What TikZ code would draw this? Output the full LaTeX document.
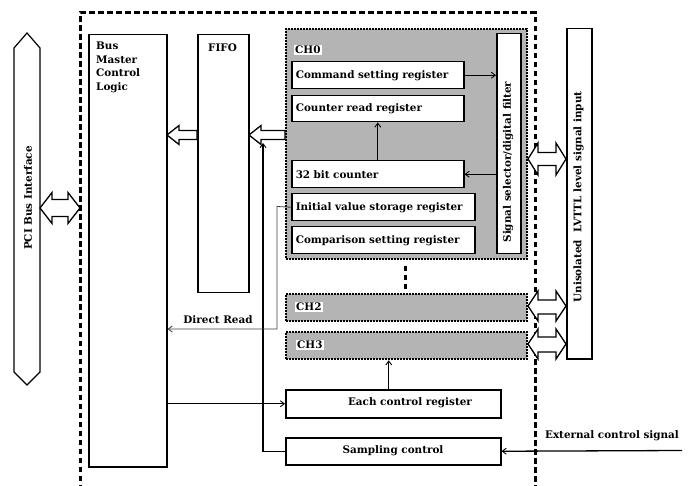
\documentclass[tikz,border=0pt]{standalone}
\usepackage{fontspec}
\setmainfont{DejaVu Serif}
\usetikzlibrary{calc,arrows.meta}
\definecolor{chgray}{RGB}{180,180,180}
\begin{document}
\begin{tikzpicture}[x=1pt,y=-1pt,
  font=\bfseries\fontsize{10.4}{13.5}\selectfont,
  >={Straight Barb[length=4pt,width=6pt,line width=0.9pt]},
  box/.style={draw, line width=1.5pt, fill=white, inner sep=0pt, anchor=north west},
  lbox/.style={box, align=left, inner xsep=4pt},
  chbox/.style={draw, line width=2.3pt, dash pattern=on 2pt off 1pt, fill=chgray, anchor=north west, inner sep=0pt},
  chlabel/.style={fill=white, inner sep=1pt, anchor=west},
  conn/.style={line width=1.3pt},
  thinconn/.style={line width=0.8pt, draw=black!75},
  hollow/.style={draw, line width=1.3pt, fill=white, line join=miter},
  outer/.style={line width=3pt, dash pattern=on 5.5pt off 3.5pt}
]
\useasboundingbox (0,0) rectangle (696,486);

% outer dashed frame
\draw[outer] (80,490) -- (80,13) -- (535,13) -- (535,490);

% PCI bus interface
\draw[hollow, line width=1.2pt] (27,33) -- (40,48) -- (40,372) -- (27,385) -- (14,372) -- (14,48) -- cycle;
\node[rotate=90] (pci) at (28,198) {PCI Bus Interface};
% double arrow PCI <-> frame
\draw[hollow] (40,208) -- (52,192.5) -- (52,199.5) -- (68,199.5) -- (68,192.5) -- (80,208) -- (68,223.5) -- (68,216.5) -- (52,216.5) -- (52,223.5) -- cycle;

% Bus master control logic
\node[box, minimum width=78pt, minimum height=432pt] (bmc) at (88,34) {};
\node[anchor=north west, align=left, inner sep=0pt] (bmct) at (96,42) {Bus\\Master\\Control\\Logic};

% FIFO
\node[box, minimum width=51pt, minimum height=258pt] (fifo) at (197,34) {};
\node (fifot) at (222.5,48) {FIFO};

% CH0 group
\node[chbox, minimum width=241pt, minimum height=230pt] (ch0) at (285,28) {};
\node[chlabel] (ch0t) at (294,50) {CH0};
\node[lbox, minimum width=172pt, minimum height=27pt, text width=164pt] (cmd) at (291,61) {Command setting register};
\node[lbox, minimum width=172pt, minimum height=26pt, text width=164pt] (crr) at (291,95) {Counter read register};
\node[lbox, minimum width=172pt, minimum height=27pt, text width=164pt] (cnt) at (291,160) {32 bit counter};
\node[lbox, minimum width=183pt, minimum height=27pt, text width=175pt] (ivs) at (291,193) {Initial value storage register};
\node[lbox, minimum width=183pt, minimum height=27pt, text width=175pt] (cmp) at (291,226) {Comparison setting register};
\node[box, minimum width=24pt, minimum height=220pt] (ssf) at (496,33) {};
\node[rotate=90] (ssft) at (508,162) {Signal selector/digital filter};

% connectors inside CH0
\draw[conn,->] (cmd.east) -- (cmd.east -| ssf.west);
\draw[conn,->] (cnt.east -| ssf.west) -- (cnt.east);
\draw[conn,->] (cnt.north) -- (cnt.north |- crr.south);

% dots between CH0 and CH2
\draw[line width=3pt, dash pattern=on 5.5pt off 3.5pt] (405,266) -- (405,290);

% CH2, CH3
\node[chbox, minimum width=241pt, minimum height=27pt] (ch2) at (285,293) {};
\node[chlabel] (ch2t) at (295,307) {CH2};
\node[chbox, minimum width=241pt, minimum height=27pt] (ch3) at (285,331) {};
\node[chlabel] (ch3t) at (296,345) {CH3};

% Each control register, Sampling control
\node[box, minimum width=215pt, minimum height=28pt] (ecr) at (285,389) {};
\node (ecrt) at (410,403) {Each control register};
\node[box, minimum width=215pt, minimum height=27pt] (smp) at (285,437) {};
\node (smpt) at (393,450.5) {Sampling control};

% LVTTL input
\node[box, minimum width=25pt, minimum height=330pt] (lv) at (566,28) {};
\node[rotate=90] (lvt) at (578.5,197) {Unisolated~~LVTTL level signal input};

% hollow arrows to the left
\draw[hollow] (167,135) -- (179,125.5) -- (179,130.5) -- (197,130.5) -- (197,139.5) -- (179,139.5) -- (179,144.5) -- cycle;
\draw[hollow] (249,135) -- (261,125.5) -- (261,130.5) -- (285,130.5) -- (285,139.5) -- (261,139.5) -- (261,144.5) -- cycle;

% double arrows CH <-> LVTTL
\draw[hollow] (528,159) -- (538,143) -- (538,152.5) -- (556,152.5) -- (556,143) -- (566,159) -- (556,175) -- (556,165.5) -- (538,165.5) -- (538,175) -- cycle;
\draw[hollow] (528,306) -- (538,291) -- (538,300) -- (556,300) -- (556,291) -- (566,306) -- (556,321) -- (556,314) -- (538,314) -- (538,321) -- cycle;
\draw[hollow] (528,344) -- (538,329) -- (538,337) -- (556,337) -- (556,329) -- (566,344) -- (556,359) -- (556,352) -- (538,352) -- (538,359) -- cycle;

% other connectors
\coordinate (ea) at ($(ecr.north)+(-4.5,0)$);
\draw[conn,->] (ea) -- (ea |- ch3.south);
\draw[conn,->] (bmc.east |- ecr.west) -- (ecr.west);
\coordinate (up) at (263,143);
\draw[conn,->] (smp.west) -- (smp.west -| up) -- (up);
\coordinate (dr1) at (277,206.5);
\coordinate (dr2) at (277,329);
\draw[thinconn,->] (ivs.west) -- (dr1) -- (dr2) -- (dr2 -| bmc.east);
\node[anchor=south] (drt) at (218,327) {Direct Read};
\coordinate (ext) at (682,450.5);
\draw[conn,->] (ext) -- (smp.east);
\node[anchor=south] (extt) at (612,444) {External control signal};
\end{tikzpicture}
\end{document}
